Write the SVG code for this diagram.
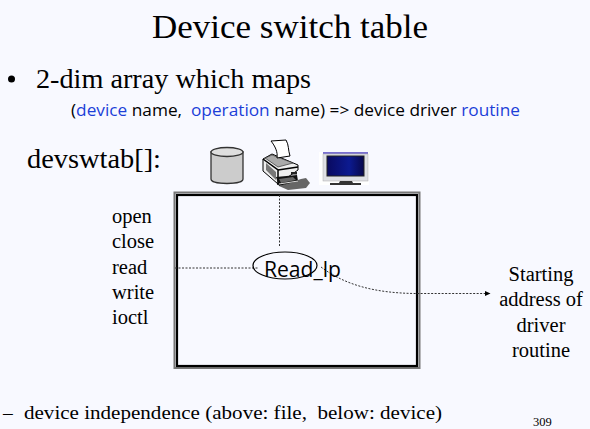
<svg xmlns="http://www.w3.org/2000/svg" width="590" height="429" viewBox="0 0 590 429">
<defs>
<style>
.s{font-family:"Liberation Serif","Times New Roman",serif;fill:#000}
.c{font-family:"Open Sans","DejaVu Sans",sans-serif;fill:#000}
.b{fill:#1c3fd8}
.m{font-size:20.500px}
.d{stroke:#333;stroke-width:1;fill:none;stroke-dasharray:2 1.500}
</style>
<marker id="a" markerWidth="6" markerHeight="6" refX="5" refY="3" orient="auto" markerUnits="userSpaceOnUse"><path d="M0 .5L5.500 3L0 5.500Z" fill="#000"/></marker>
<linearGradient id="scr" x1="0" y1="0" x2="1" y2="0"><stop offset="0" stop-color="#0a0a60"/><stop offset=".6" stop-color="#0c1a90"/><stop offset="1" stop-color="#08084a"/></linearGradient>
</defs>
<rect width="590" height="429" fill="#f8f9ff"/>
<text id="title" class="s" x="290" y="38" font-size="33" text-anchor="middle" textLength="276" lengthAdjust="spacingAndGlyphs">Device switch table</text>
<g id="bullet"><circle cx="11.500" cy="79" r="3.500" fill="#000"/>
<text class="s" x="36" y="88" font-size="27" textLength="275" lengthAdjust="spacingAndGlyphs">2-dim array which maps</text></g>
<text id="subtitle" class="c" x="71" y="116" font-size="15.500" xml:space="preserve" textLength="449" lengthAdjust="spacingAndGlyphs">(<tspan class="b">device</tspan> name,  <tspan class="b">operation</tspan> name) =&gt; device driver <tspan class="b">routine</tspan></text>
<text id="devswtab" class="s" x="27" y="168" font-size="27" textLength="134" lengthAdjust="spacingAndGlyphs">devswtab[]:</text>
<g id="disk">
<path d="M211 152V179C211 185 243 185 243 179V152Z" fill="#cccccc" stroke="#333" stroke-width="1.300"/>
<ellipse cx="227" cy="152" rx="16" ry="4.500" fill="#dedede" stroke="#333" stroke-width="1.300"/>
</g>
<g id="printer">
<path d="M279 186L301 179L306 178L310 183L306 188L288 190Z" fill="#666"/>
<path d="M263 159L272 154L298 165V170L278 184L263 171Z" fill="#eee" stroke="#000"/>
<path d="M263 159L278 170V185" fill="none" stroke="#000" stroke-width="1.500"/>
<path d="M278 170L298 167" stroke="#000" stroke-width="1.500"/>
<path d="M265 158L272 155L293 163L278 167Z" fill="#aaa" stroke="#333" stroke-width=".7"/>
<path d="M271 141L286 140C289 145 288 150 290 156L277 158C278 152 275 146 271 141Z" fill="#fff" stroke="#000"/>
<path d="M266 163L276 172V180L266 170Z" fill="#777"/>
<path d="M276 177L297 175L298 181L279 186Z" fill="#111"/>
<path d="M279 179L293 177L296 180L281 183Z" fill="#666"/>
<path d="M279 184L298 181" stroke="#ddd"/>
<rect x="291" y="172" width="6" height="2.500" fill="#222"/>
</g>
<g id="monitor">
<rect x="319" y="152" width="50" height="33" fill="#fff"/>
<rect x="323" y="152" width="45" height="2" fill="#7a70d0"/>
<rect x="323" y="154" width="45" height="27" fill="#dfe0e4" stroke="#aaa" stroke-width=".5"/>
<rect x="327" y="156" width="37" height="20" fill="url(#scr)" stroke="#222"/>
<path d="M340 181H352L353 183H361V185H330V183H339Z" fill="#333"/>
</g>
<g id="table">
<rect x="174.500" y="192.500" width="245" height="175.500" fill="none" stroke="#777" stroke-width="2"/>
<rect x="177" y="195" width="240" height="171" fill="none" stroke="#000" stroke-width="2.200"/>
</g>
<g id="operations">
<text class="s m" x="112" y="223">open</text>
<text class="s m" x="112" y="248">close</text>
<text class="s m" x="112" y="274">read</text>
<text class="s m" x="112" y="299">write</text>
<text class="s m" x="112" y="324">ioctl</text>
</g>
<g id="connectors">
<path class="d" d="M279.500 195V247"/>
<path class="d" d="M175 268H258"/>
<path class="d" stroke-width=".8" d="M321 267C345 285 375 293 415 293.500H490" marker-end="url(#a)"/>
</g>
<g id="read_lp">
<ellipse cx="285" cy="265.500" rx="32" ry="13.500" fill="none" stroke="#000" stroke-width="1.200"/>
<text class="c" x="264" y="277" font-size="21" textLength="77" lengthAdjust="spacingAndGlyphs">Read_lp</text>
</g>
<g id="target" text-anchor="middle">
<text class="s m" x="541" y="281">Starting</text>
<text class="s m" x="541" y="306">address of</text>
<text class="s m" x="541" y="332">driver</text>
<text class="s m" x="541" y="357">routine</text>
</g>
<g id="note">
<text class="s" x="3" y="419" font-size="19.500">–</text>
<text class="s" x="24" y="419" font-size="19.500" xml:space="preserve" textLength="418" lengthAdjust="spacingAndGlyphs">device independence (above: file,  below: device)</text>
</g>
<text id="page" class="s" x="533" y="426" font-size="12.500">309</text>
</svg>
